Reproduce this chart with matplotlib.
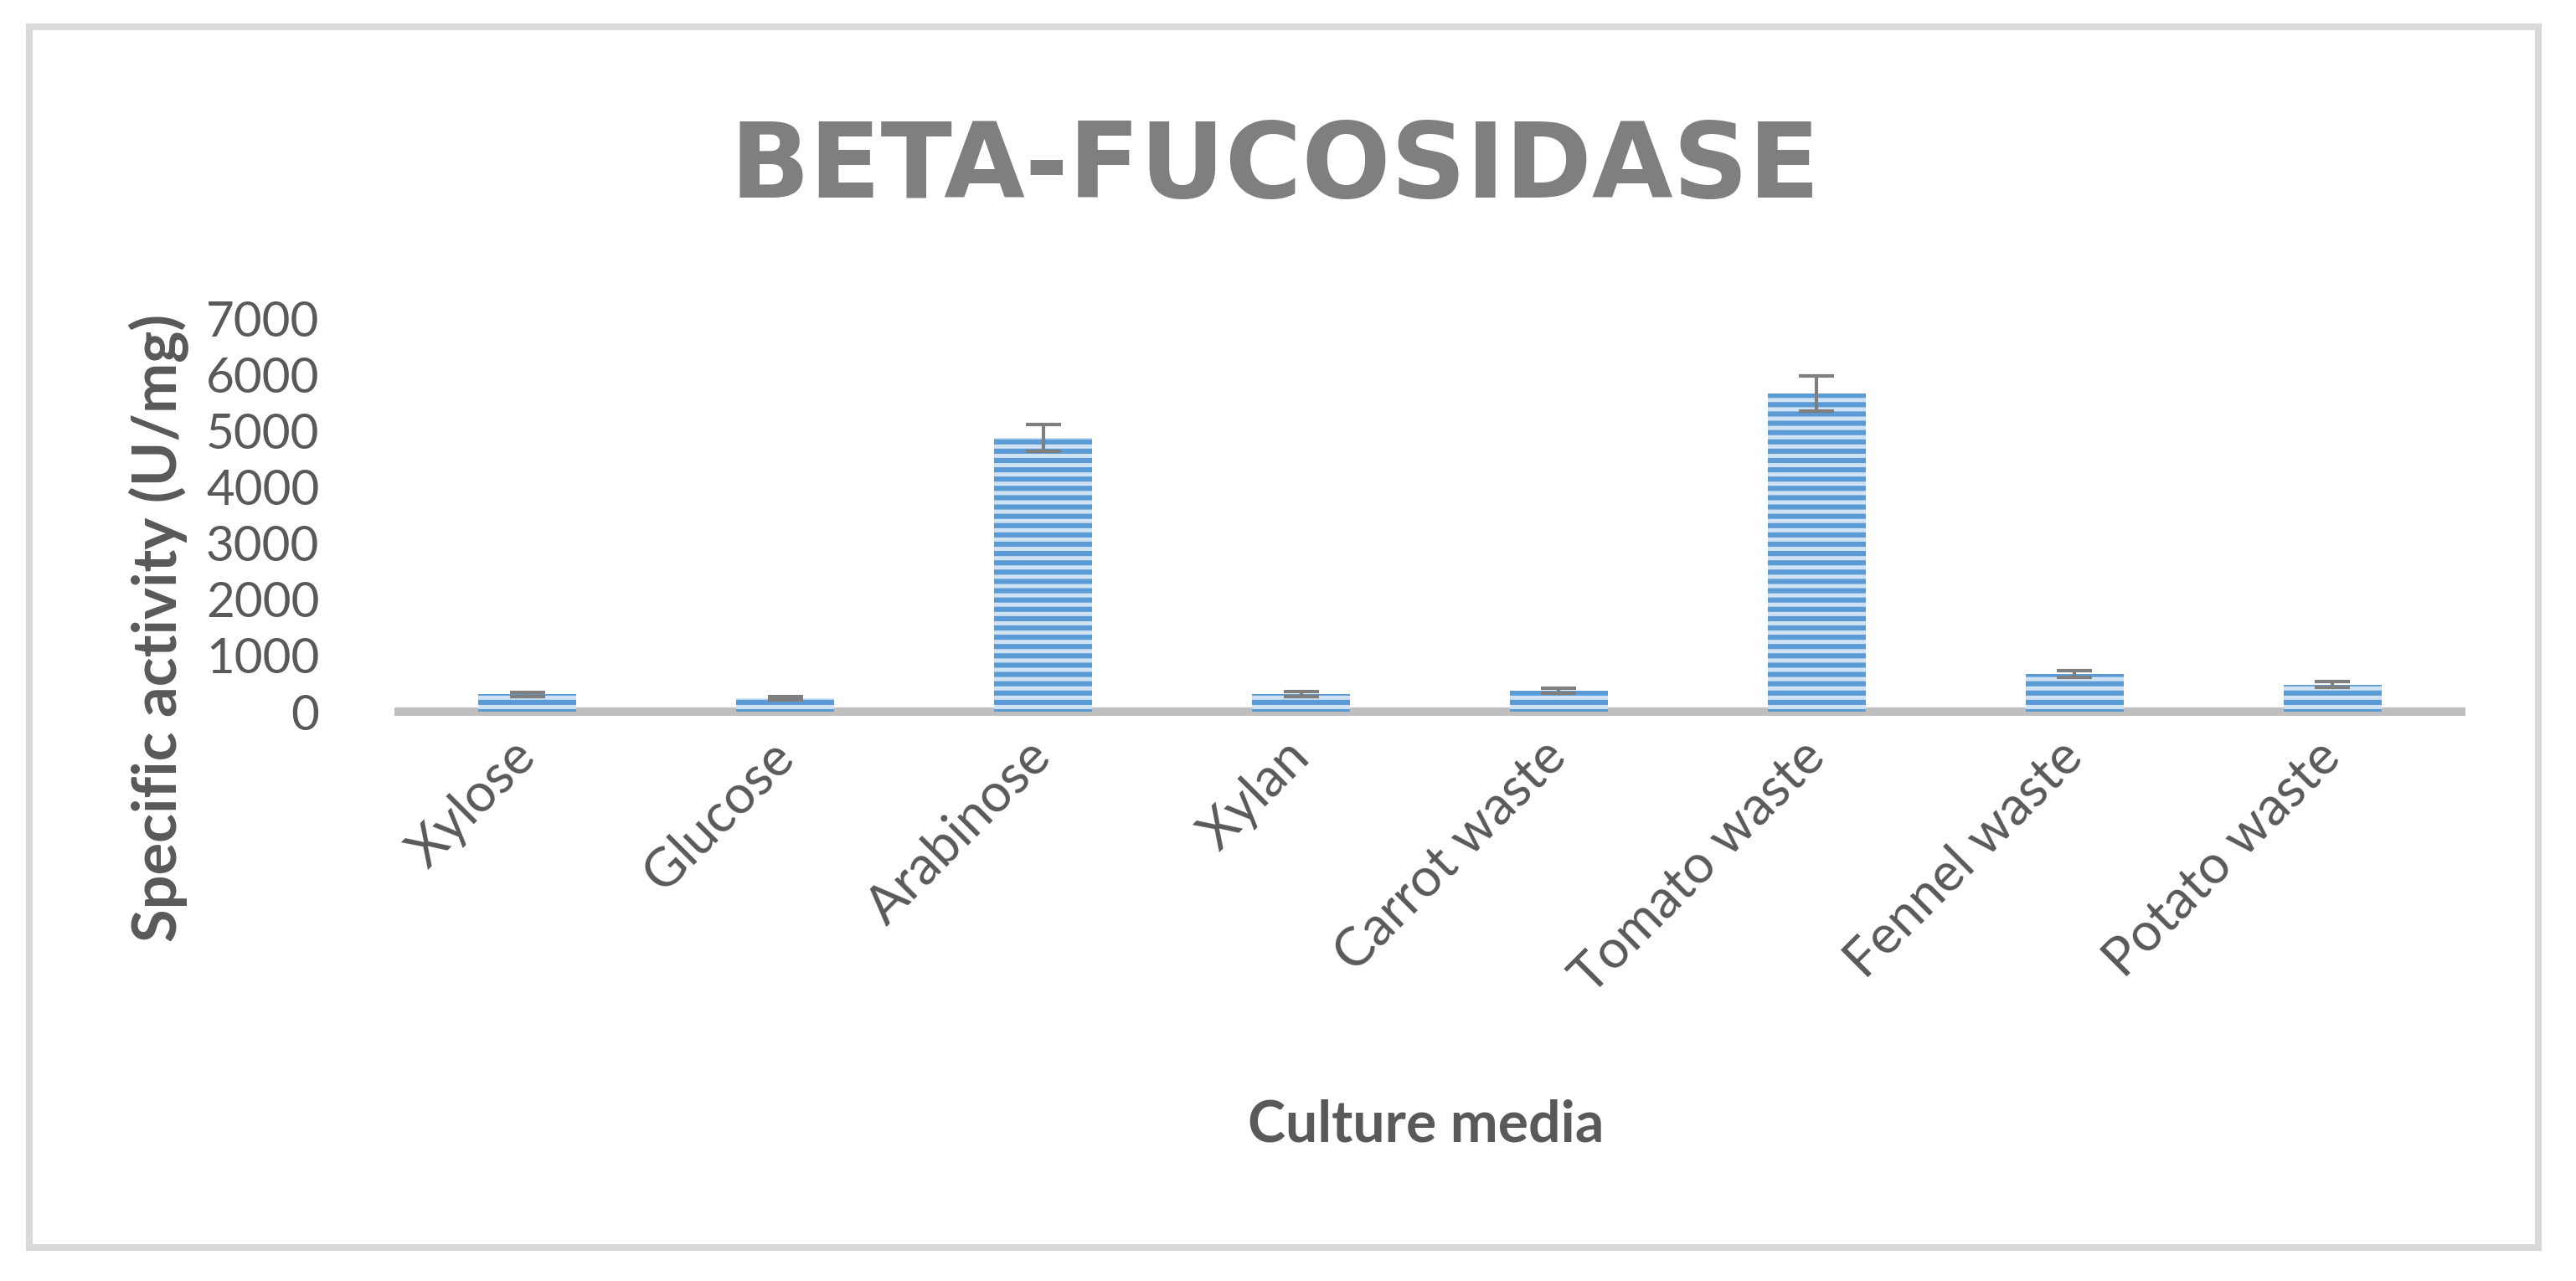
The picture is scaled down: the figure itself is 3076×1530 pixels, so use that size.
import matplotlib
matplotlib.use('Agg')
import matplotlib.pyplot as plt
from matplotlib import font_manager
from matplotlib.patches import Rectangle
import numpy as np

# data
media = ['Xylose', 'Glucose', 'Arabinose', 'Xylan', 'Carrot waste',
         'Tomato waste', 'Fennel waste', 'Potato waste']
activity = [310, 240, 4870, 315, 375, 5660, 670, 485]
activity_err = [40, 25, 240, 50, 50, 310, 55, 50]
y_ticks = [0, 1000, 2000, 3000, 4000, 5000, 6000, 7000]

title = 'BETA-FUCOSIDASE'
x_title = 'Culture media'
y_title = 'Specific activity (U/mg)'

installed = {f.name for f in font_manager.fontManager.ttflist}
body_face = 'Lato' if 'Lato' in installed else 'DejaVu Sans'

plt.rcParams['font.family'] = [body_face, 'DejaVu Sans']
plt.rcParams['hatch.linewidth'] = 2.2

fig = plt.figure(figsize=(15.38, 7.65), dpi=200)
fig.patch.set_facecolor('white')

# outer chart border
fig.patches.append(Rectangle((0.0114, 0.0261), 0.974, 0.953, transform=fig.transFigure,
                             fill=False, edgecolor='#D9D9D9', linewidth=2.9))

ax = fig.add_axes([0.1547, 0.4444, 0.8008, 0.3072])
x = np.arange(len(media))
ax.bar(x, activity, width=0.38, color='#CFE2F4', edgecolor='#5B9BD5',
       hatch='---', linewidth=0, zorder=2)
ax.errorbar(x, activity, yerr=activity_err, fmt='none', ecolor='#7F7F7F',
            elinewidth=1.5, capsize=7.7, capthick=1.5, zorder=3)

ax.set_xlim(-0.5, len(media) - 0.5)
ax.set_ylim(0, 7000)
ax.set_yticks(y_ticks)
ax.set_yticklabels([str(v) for v in y_ticks])
ax.set_xticks(x)
ax.set_xticklabels(media, rotation=45, ha='right', va='center', rotation_mode='anchor')

for side in ['top', 'right', 'left']:
    ax.spines[side].set_visible(False)
ax.spines['bottom'].set_color('#BFBFBF')
ax.spines['bottom'].set_linewidth(3.6)
ax.spines['bottom'].set_zorder(1)
ax.tick_params(axis='y', length=0, pad=34, labelsize=21, labelcolor='#595959')
ax.tick_params(axis='x', length=0, pad=16, labelsize=23, labelcolor='#595959')

fig.text(0.495, 0.868, title, ha='center', va='center', fontsize=45,
         fontweight='bold', color='#7F7F7F', family='DejaVu Sans')
fig.text(0.0618, 0.51, y_title, ha='center', va='center', rotation=90,
         fontsize=26, fontweight='bold', color='#595959', family=[body_face, 'DejaVu Sans'])
fig.text(0.5537, 0.1216, x_title, ha='center', va='center', fontsize=24.5,
         fontweight='bold', color='#595959', family=[body_face, 'DejaVu Sans'])

fig.savefig('out.png', dpi=200, facecolor='white')
